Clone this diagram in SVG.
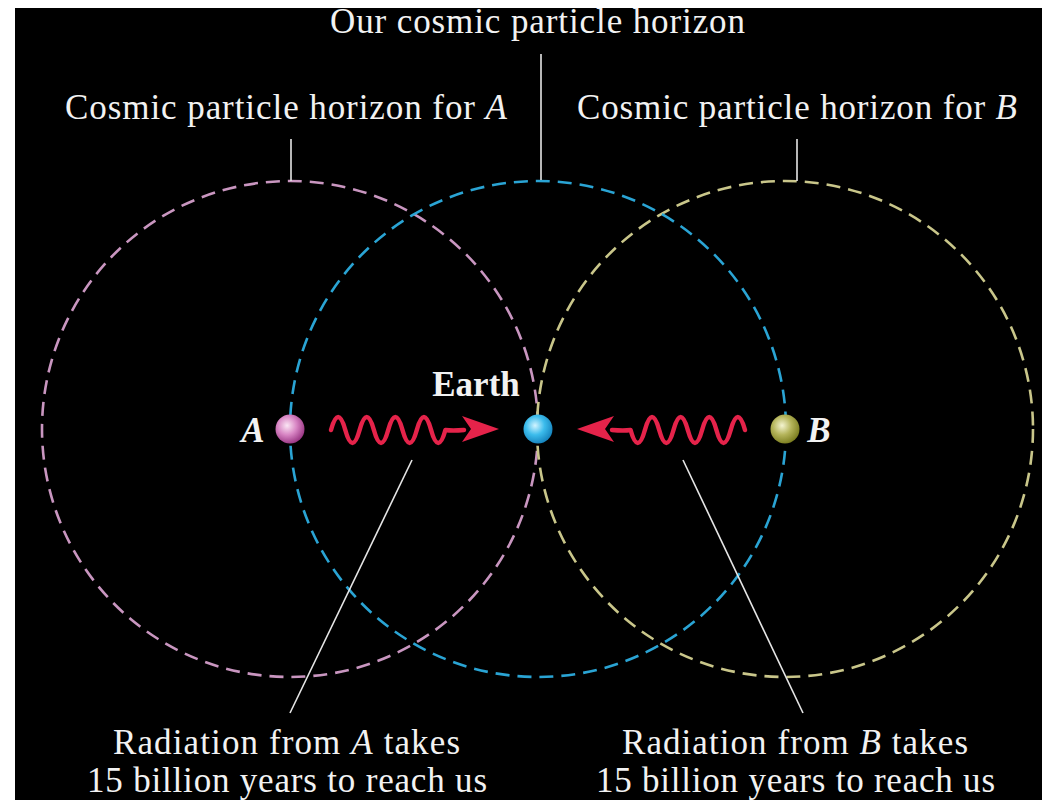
<svg xmlns="http://www.w3.org/2000/svg" width="1048" height="800" viewBox="0 0 1048 800">
<defs>
<style>
.lbl{font-family:"Liberation Serif","Times New Roman",serif;font-size:35px;fill:#f2f2f2;text-anchor:middle}
.it{font-style:italic}
.bd{font-weight:bold}
.hz{fill:none;stroke-width:2.6;stroke-dasharray:14 8}
.lead{stroke:#e6e6e6;stroke-width:1.6;fill:none}
.wave{fill:none;stroke:#e5234a;stroke-width:4.5;stroke-linecap:round;stroke-linejoin:round}
.head{fill:#e5234a}
</style>
<radialGradient id="gA" cx="0.4" cy="0.38" r="0.65">
<stop offset="0" stop-color="#fbe6f4"/><stop offset="0.5" stop-color="#d886c4"/><stop offset="1" stop-color="#983482"/>
</radialGradient>
<radialGradient id="gE" cx="0.4" cy="0.38" r="0.65">
<stop offset="0" stop-color="#d2f4ff"/><stop offset="0.5" stop-color="#3cbcec"/><stop offset="1" stop-color="#1582bc"/>
</radialGradient>
<radialGradient id="gB" cx="0.4" cy="0.38" r="0.65">
<stop offset="0" stop-color="#f4f4d0"/><stop offset="0.5" stop-color="#b4b45a"/><stop offset="1" stop-color="#7a7c1e"/>
</radialGradient>
</defs>
<rect x="0" y="0" width="1048" height="800" fill="#ffffff"/>
<rect x="15" y="8" width="1027" height="792" fill="#000000"/>

<g id="horizon-a"><circle class="hz" cx="290" cy="429" r="248" stroke="#c996c0"/></g>
<g id="horizon-b"><circle class="hz" cx="785" cy="429" r="248" stroke="#c9c68a"/></g>
<g id="horizon-earth"><circle class="hz" cx="538" cy="429" r="248" stroke="#2aa4d4"/></g>

<g id="connectors">
<line class="lead" x1="541" y1="54" x2="541" y2="180"/>
<line class="lead" x1="291" y1="139" x2="291" y2="181"/>
<line class="lead" x1="797" y1="139" x2="797" y2="181"/>
<line class="lead" x1="412" y1="460" x2="290" y2="713"/>
<line class="lead" x1="683" y1="460" x2="803" y2="713"/>
<g id="wave-a">
<path class="wave" d="M331,430 Q338.15,404 345.3,430 T359.6,430 T373.9,430 T388.2,430 T402.5,430 T416.8,430 T431.1,430 T445.4,430 Q452,431 464,430"/>
<polygon class="head" points="499,429 462,416 471,429 462,442"/>
</g>
<g id="wave-b" transform="translate(1076,0) scale(-1,1)">
<path class="wave" d="M331,430 Q338.15,404 345.3,430 T359.6,430 T373.9,430 T388.2,430 T402.5,430 T416.8,430 T431.1,430 T445.4,430 Q452,431 464,430"/>
<polygon class="head" points="499,429 462,416 471,429 462,442"/>
</g>
</g>

<g id="node-a"><circle cx="290" cy="429" r="14.5" fill="url(#gA)"/>
<text class="lbl it bd" x="253" y="442" font-size="31">A</text></g>
<g id="node-earth"><circle cx="538" cy="429" r="14.5" fill="url(#gE)"/>
<text class="lbl bd" x="476" y="396" font-size="30">Earth</text></g>
<g id="node-b"><circle cx="785" cy="429" r="14.5" fill="url(#gB)"/>
<text class="lbl it bd" x="819" y="442" font-size="31">B</text></g>

<g id="labels">
<text class="lbl" x="537.5" y="33" textLength="415">Our cosmic particle horizon</text>
<text class="lbl" x="286" y="119" textLength="442">Cosmic particle horizon for <tspan class="it">A</tspan></text>
<text class="lbl" x="797" y="119" textLength="440">Cosmic particle horizon for <tspan class="it">B</tspan></text>
<text class="lbl" x="286.5" y="754" textLength="347">Radiation from <tspan class="it">A</tspan> takes</text>
<text class="lbl" x="287" y="792" textLength="400">15 billion years to reach us</text>
<text class="lbl" x="795" y="754" textLength="346">Radiation from <tspan class="it">B</tspan> takes</text>
<text class="lbl" x="795.5" y="792" textLength="399">15 billion years to reach us</text>
</g>
</svg>
